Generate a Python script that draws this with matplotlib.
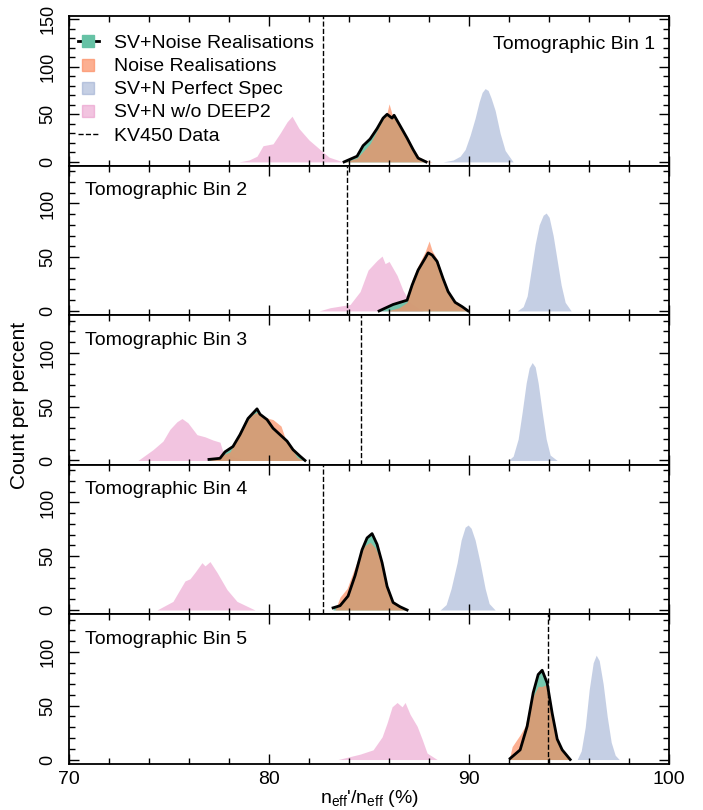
import matplotlib
matplotlib.use('Agg')
import matplotlib.pyplot as plt
from matplotlib.lines import Line2D
from matplotlib.ticker import MultipleLocator

plt.rcParams['font.family'] = ['Liberation Sans', 'DejaVu Sans']
plt.rcParams['mathtext.default'] = 'regular'

###############################################################################
# n_eff ratio histograms for the five tomographic bins
###############################################################################

bins = ['Tomographic Bin 1', 'Tomographic Bin 2', 'Tomographic Bin 3',
        'Tomographic Bin 4', 'Tomographic Bin 5']

# KV450 measured ratio per bin
kv450 = [82.7, 83.9, 84.6, 82.7, 93.95]

# SV+Noise realisations (count per percent)
sv_x = [[83.75, 84.4, 84.7, 85.05, 85.4, 85.7, 85.9, 86.15, 86.25, 86.55, 86.9, 87.2, 87.45, 87.85],
        [85.5, 86.2, 86.9, 87.15, 87.45, 87.8, 87.95, 88.15, 88.4, 88.7, 88.95, 89.3, 89.65, 89.95],
        [77.0, 77.55, 77.8, 78.2, 78.55, 78.95, 79.2, 79.4, 79.55, 79.9, 80.2, 80.55, 80.9, 81.2, 81.55, 81.8],
        [83.2, 83.55, 83.95, 84.3, 84.65, 84.9, 85.15, 85.4, 85.65, 85.9, 86.2, 86.55, 86.9],
        [92.05, 92.55, 92.9, 93.2, 93.45, 93.65, 93.9, 94.15, 94.4, 94.65, 95.05]]
sv_y = [[0, 6, 17, 24, 35, 46, 50, 46, 49, 38, 25, 13, 4, 0],
        [0, 6, 10, 24, 38, 49, 54, 52, 46, 30, 18, 8, 4, 0],
        [1, 2, 8, 13, 24, 39, 44, 48, 43, 38, 30, 24, 18, 10, 4, 0],
        [2, 4, 13, 32, 56, 67, 71, 61, 44, 22, 7, 3, 0],
        [1, 9, 31, 62, 79, 83, 71, 43, 19, 9, 0]]

# noise-only realisations
noise_x = [[83.8, 84.4, 84.7, 85.05, 85.4, 85.7, 85.9, 86.0, 86.15, 86.5, 86.9, 87.2, 87.5, 87.8, 88.15],
           [85.9, 86.5, 86.9, 87.15, 87.45, 87.8, 88.0, 88.15, 88.4, 88.7, 88.95, 89.3, 89.65, 89.95],
           [77.0, 77.55, 78.05, 78.55, 78.95, 79.2, 79.45, 79.7, 80.0, 80.2, 80.6, 80.8, 81.1, 81.4, 81.7],
           [83.3, 83.55, 83.9, 84.2, 84.5, 84.8, 85.05, 85.3, 85.65, 85.9, 86.2, 86.55, 86.9],
           [92.0, 92.15, 92.55, 92.8, 93.1, 93.45, 93.65, 93.9, 94.15, 94.4, 94.65, 95.0]]
noise_y = [[0, 4, 11, 19, 33, 45, 52, 61, 50, 40, 26, 14, 5, 2, 0],
           [0, 3, 8, 29, 42, 55, 65, 56, 48, 31, 18, 8, 4, 0],
           [0, 4, 8, 24, 38, 43, 45, 41, 39, 38, 32, 21, 12, 3, 0],
           [0, 12, 20, 35, 50, 60, 63, 58, 44, 22, 7, 3, 0],
           [0, 12, 23, 31, 55, 68, 68, 70, 43, 17, 9, 0]]

# SV+N with perfect spectroscopy
spec_x = [[88.7, 89.2, 89.55, 89.8, 90.05, 90.3, 90.5, 90.65, 90.8, 90.95, 91.1, 91.3, 91.55, 91.8, 92.2],
          [92.4, 92.7, 92.9, 93.1, 93.3, 93.5, 93.7, 93.85, 94.0, 94.2, 94.4, 94.6, 94.8, 95.1],
          [91.95, 92.2, 92.45, 92.65, 92.85, 93.0, 93.15, 93.3, 93.45, 93.65, 93.85, 94.05, 94.4],
          [88.55, 88.85, 89.1, 89.4, 89.6, 89.8, 89.95, 90.1, 90.3, 90.55, 90.8, 91.0, 91.3],
          [95.4, 95.6, 95.8, 96.0, 96.2, 96.35, 96.5, 96.7, 96.9, 97.1, 97.3, 97.5]]
spec_y = [[0, 2, 6, 13, 28, 46, 63, 73, 77, 75, 67, 54, 30, 12, 0],
          [0, 4, 14, 38, 62, 80, 89, 91, 87, 70, 47, 24, 8, 0],
          [0, 4, 20, 45, 72, 86, 91, 87, 72, 45, 20, 5, 0],
          [0, 5, 20, 44, 65, 77, 79, 76, 65, 44, 20, 6, 0],
          [0, 8, 30, 65, 90, 97, 92, 70, 40, 16, 4, 0]]

# SV+N without DEEP2
nodeep_x = [[78.5, 79.0, 79.4, 79.7, 80.2, 80.55, 80.9, 81.15, 81.5, 82.0, 82.5, 83.0, 83.7],
            [82.5, 83.05, 84.05, 84.55, 84.95, 85.4, 85.65, 85.8, 86.0, 86.4, 86.7, 87.05, 87.45, 87.7],
            [73.45, 74.2, 74.7, 75.05, 75.4, 75.65, 75.95, 76.4, 76.8, 77.2, 77.55, 77.7, 78.3, 78.9],
            [74.4, 75.2, 75.8, 76.05, 76.3, 76.65, 76.8, 77.05, 77.4, 77.9, 78.4, 79.3],
            [83.45, 84.55, 85.2, 85.65, 85.9, 86.15, 86.4, 86.65, 86.8, 87.05, 87.4, 87.65, 87.9, 88.4]]
nodeep_y = [[0, 2, 6, 17, 19, 30, 42, 48, 35, 23, 14, 5, 0],
            [0, 3, 6, 18, 38, 47, 51, 44, 46, 33, 19, 8, 3, 0],
            [0, 10, 18, 29, 36, 39, 35, 24, 22, 19, 17, 8, 3, 0],
            [0, 8, 27, 29, 35, 44, 41, 45, 35, 19, 8, 0],
            [0, 5, 9, 21, 34, 49, 53, 49, 53, 42, 31, 19, 6, 0]]

green = '#66c2a5'
orange = '#fc8d62'
blue = '#8da0cb'
pink = '#e78ac3'

fig, axes = plt.subplots(5, 1, sharex=True, figsize=(7.03, 8.10), dpi=100)
fig.subplots_adjust(left=0.098, right=0.952, top=0.980, bottom=0.057, hspace=0)

for i, ax in enumerate(axes):
    ax.fill_between(nodeep_x[i], nodeep_y[i], 0, color=pink, alpha=0.5, lw=0)
    ax.fill_between(spec_x[i], spec_y[i], 0, color=blue, alpha=0.5, lw=0)
    ax.fill_between(sv_x[i], sv_y[i], 0, color=green, alpha=0.9, lw=0)
    ax.fill_between(noise_x[i], noise_y[i], 0, color=orange, alpha=0.7, lw=0)
    ax.plot(sv_x[i], sv_y[i], color='k', lw=2)
    ax.axvline(kv450[i], color='k', ls='--', lw=1)

    ax.set_xlim(70, 100)
    if i == 0:
        ax.set_ylim(-4, 153)
        ax.set_yticks([0, 50, 100, 150])
        ax.text(0.977, 0.81, bins[i], transform=ax.transAxes, ha='right',
                va='center', fontsize=14)
    else:
        ax.set_ylim(-4, 135)
        ax.set_yticks([0, 50, 100])
        ax.text(0.027, 0.833, bins[i], transform=ax.transAxes, ha='left',
                va='center', fontsize=14)
    ax.yaxis.set_minor_locator(MultipleLocator(10))
    ax.xaxis.set_major_locator(MultipleLocator(10))
    ax.xaxis.set_minor_locator(MultipleLocator(2))
    ax.tick_params(which='both', direction='in', top=True, right=True, width=1)
    ax.tick_params(which='major', length=7)
    ax.tick_params(which='minor', length=4)
    ax.tick_params(axis='y', labelsize=13, labelrotation=90, pad=9)
    ax.tick_params(axis='x', labelsize=14, pad=5)
    for lab in ax.get_yticklabels():
        lab.set_va('center')
    for sp in ax.spines.values():
        sp.set_linewidth(1.3)

handles = [
    Line2D([], [], color='k', lw=2, marker='s', markersize=8,
           markerfacecolor=green, markeredgecolor=green),
    Line2D([], [], ls='', marker='s', markersize=9, color=orange, alpha=0.7),
    Line2D([], [], ls='', marker='s', markersize=9, color=blue, alpha=0.5),
    Line2D([], [], ls='', marker='s', markersize=9, color=pink, alpha=0.5),
    Line2D([], [], color='k', ls='--', lw=1),
]
labels = ['SV+Noise Realisations', 'Noise Realisations', 'SV+N Perfect Spec',
          'SV+N w/o DEEP2', 'KV450 Data']
axes[0].legend(handles, labels, loc='upper left', bbox_to_anchor=(-0.016, 1.0),
               frameon=False, fontsize=14, handlelength=1.1, handletextpad=0.75,
               labelspacing=0.28, borderaxespad=0.55)

axes[-1].set_xlabel("n$_{eff}$'/n$_{eff}$ (%)", fontsize=14, labelpad=0)
fig.text(0.028, 0.5, 'Count per percent', rotation=90, ha='center',
         va='center', fontsize=15)

plt.savefig('out.png', dpi=100)
